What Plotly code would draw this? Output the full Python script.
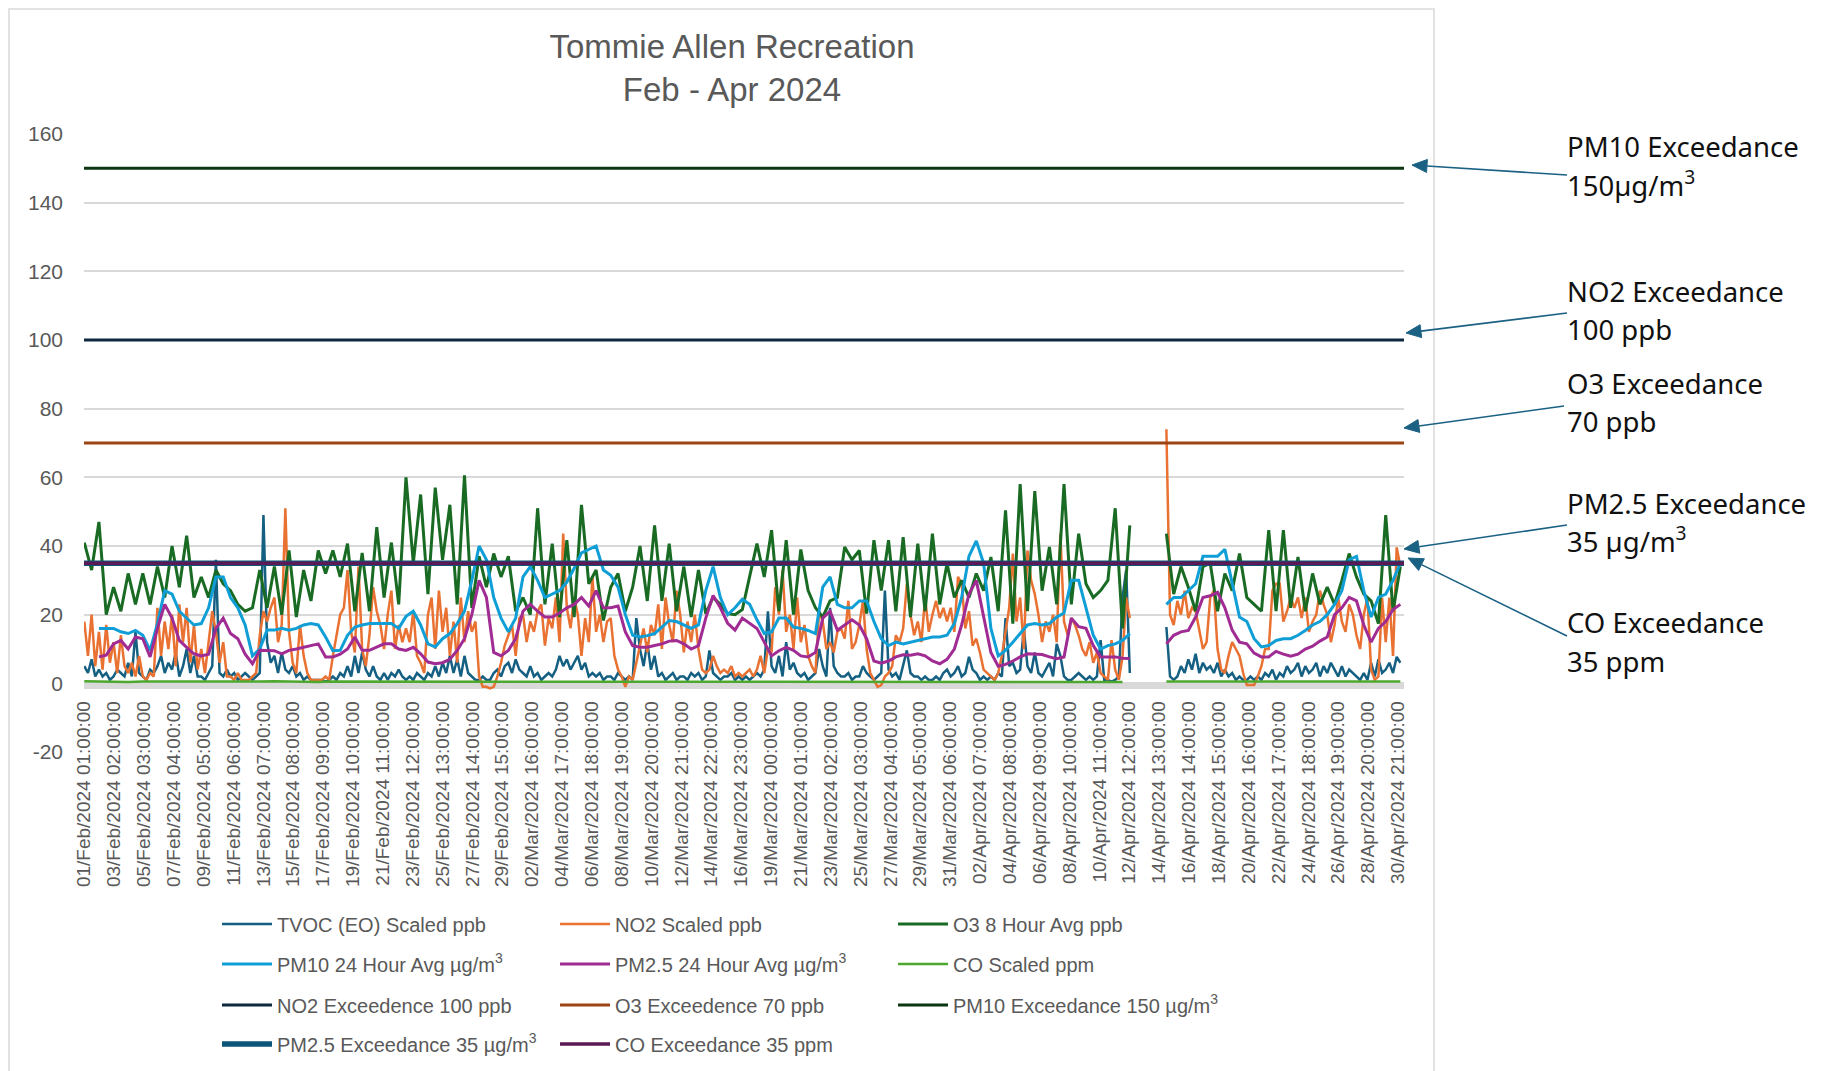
import math
import pandas as pd
import plotly.graph_objects as go

# ---------------- data ----------------
START = "2024-02-01 01:00"
X_START = "2024-02-01 00:30"
X_END = "2024-05-01 07:00"

# x tick labels: one every 49 hourly categories
tick_times = pd.date_range(START, periods=45, freq="49h")
tick_text = [t.strftime("%d/%b/%Y %H:%M:%S") for t in tick_times]

# y tick labels
y_ticks = list(range(-20, 161, 20))
y_text = [str(v) for v in y_ticks]

# O3 8-hour average (ppb), read every 12 h
o3 = [
    41, 33, 47, 20, 28, 21, 32, 23, 32, 23,
    34, 25, 40, 28, 43, 25, 31, 25, 33, 29,
    27, 23, 21, 22, 33, 22, 34, 20, 38.7, 19.3,
    33, 24, 38.7, 32, 38.7, 31, 40.7, 21, 38, 21,
    45.5, 25, 41, 23, 60, 35, 55, 26, 57, 36,
    52, 23, 60.6, 22, 37, 28, 37.8, 31, 37, 21,
    25, 20, 51, 23, 40.7, 19.3, 41.7, 19.3, 52, 29,
    33, 18.3, 28, 32, 21, 28, 40, 24, 46, 24,
    40.7, 21, 34, 19.3, 33, 20.3, 25, 23, 20.3, 20,
    21.5, 31, 40.7, 31, 44.6, 21, 41.7, 20, 39, 27,
    22, 19.3, 24, 25, 39.7, 36, 38.7, 20.3, 41.7, 27,
    41.7, 21, 42.6, 19.3, 40.7, 21, 43.6, 23, 34.9, 25,
    30, 25, 32, 27, 36.8, 21, 50.4, 17.4, 58, 21,
    56, 27, 39.7, 23, 58, 23, 43.6, 29, 25, 27,
    30, 51, 16, 46, None, None, None, None, 43.6, 26,
    34, 28, 21, 34, 35, 21, 32, 27, 37.8, 25,
    23, 21, 44.6, 21, 44.6, 22, 36.8, 21, 32, 23,
    28, 23, 30, 37.8, 31, 26, 24, 17.4, 49, 21,
    34,
]

# PM10 24-hour average (ug/m3), every 12 h
pm10 = [
    None, None, 16, 16, 16, 15, 14.5, 15.4, 14, 9.6,
    17.4, 27, 26, 21, 19, 17, 17.4, 22, 31, 31,
    25, 22, 17, 8, 10, 15.5, 15.5, 16, 15.5, 16,
    17, 17.4, 17, 13.5, 9.5, 9.6, 14, 16.4, 17, 17.4,
    17.4, 17.4, 17.4, 16, 19.5, 21, 17, 11.5, 10.6, 13,
    14.5, 17.4, 21, 30, 40, 36, 25, 19, 15, 19,
    31, 34, 30, 25, 26, 27, 29.5, 33.5, 38, 39,
    40, 33, 31.5, 28, 20, 14, 13.5, 13.9, 14.5, 16.4,
    18.3, 18, 17, 16, 17, 27, 34, 25, 20, 22,
    24.5, 23, 18.5, 14.5, 15, 19, 19, 16.4, 16, 15.4,
    14.5, 28, 31, 23, 22, 22, 24, 24, 18, 13,
    11, 12, 11.5, 12, 12.5, 13, 13.5, 13.5, 14, 17.4,
    25, 37, 41.5, 35, 16, 8, 9.6, 12, 14.5, 17,
    17.4, 17, 17.4, 19.3, 20.5, 30, 30, 22, 14, 10,
    11, 11.5, 12.5, 14.5, None, None, None, None, 23, 25,
    25, 27, 29, 37, 37, 37, 39, 29, 19.3, 18,
    13, 10.6, 11, 12.5, 13, 13, 14, 15.4, 17, 18,
    20, 23, 27, 36, 37, 27, 19.3, 25, 26, 30,
    35,
]

# PM2.5 24-hour average (ug/m3), every 12 h
pm25 = [
    None, None, 7.7, 8.2, 11.5, 12.5, 10, 13.5, 13, 7.7,
    16, 23, 19, 12.5, 10.5, 8.6, 8, 8.5, 16, 19,
    14.5, 13, 8.5, 5.7, 9.6, 9.6, 9.5, 8.6, 9.6, 10,
    10.5, 11, 11.5, 7.7, 7.7, 8.5, 10, 13.5, 9.6, 9.6,
    10.5, 11.5, 11.5, 10, 9.6, 10.5, 8.6, 6.2, 5.7, 6,
    7, 9.6, 13, 20, 30, 25, 9, 8, 9.6, 13,
    21, 23, 21, 19.3, 19.3, 20.5, 22, 23, 25, 22.5,
    27, 22, 22, 22.5, 15, 11, 10.5, 10.5, 11, 11.5,
    12.3, 12.5, 11.5, 10, 11, 19, 25.6, 22, 17.5, 15.5,
    19, 17.5, 16, 12, 8, 9.5, 10.5, 9.6, 8, 7.7,
    9, 19, 21, 15.5, 17, 18.5, 17, 13, 6.5, 5.9,
    6.5, 7.7, 8.3, 8.2, 8.6, 8, 6.5, 5.7, 7, 10,
    17, 26, 30, 20, 9, 5, 5.5, 6.5, 7.7, 8.6,
    8.6, 8.4, 7.7, 7.2, 7.7, 19, 16.5, 16, 11, 7.7,
    7.7, 7.7, 7.3, 7.2, None, None, None, None, 11.5, 14,
    15, 15.4, 19.3, 25, 25.5, 26.5, 22, 15.5, 12, 11.5,
    8.8, 7.7, 7.7, 9.3, 8.5, 7.9, 8.5, 10, 10.8, 12.3,
    13.5, 20, 22, 25, 24, 17, 12, 16, 18, 21.5,
    23,
]

# NO2 scaled (ppb), every 6 h
no2 = [
    18, 8, 20, 5, 15, 4, 17, 6, 12, 3, 14, 5, 3, 6, 2, 8, 2, 1, 3, 2,
    22, 8, 18, 10, 20, 5, 23, 12, 22, 6, 17, 4, 10, 3, 12, 21, 15, 6, 12, 2,
    2, 1, 3, 1, 1, 1, 2, 3, 14, 21, 18, 22, 25, 12, 17, 51, 15, 6, 3, 17,
    8, 3, 1, 1, 1, 1, 2, 1, 8, 14, 20, 22, 33, 15, 9, 34, 10, 5, 14, 28,
    21, 17, 10, 20, 27, 10, 17, 12, 16, 12, 21, 8, 6, 3, 20, 25, 10, 27, 15, 22,
    8, 18, 6, 25, 12, 21, 15, 18, 2, -1, -1, -1.5, -1, 2, 6, 11, 14, 17, 8, 19,
    20, 12, 18, 15, 21, 23, 11, 19, 16, 25, 12, 43.6, 22, 16, 25, 20, 8, 19, 12, 31,
    15, 20, 12, 18, 19, 8, 4, 2, -1, 2, 1, 6, 12, 16, 9, 17, 14, 23, 10, 25,
    17, 12, 27, 20, 9, 18, 12, 20, 10, 4, 3, 4, 8, 5, 3, 4, 3, 5, 2, 3,
    2, 3, 4, 2, 4, 8, 3, 10, 9, 28, 20, 33, 15, 20, 10, 25, 12, 17, 8, 5,
    3, 21, 18, 10, 12, 9, 15, 16, 13, 24, 10, 12, 17, 24, 10, 3, 1, -1, -0.5, 2,
    3, 5, 14, 12, 16, 29, 20, 14, 18, 12, 25, 15, 20, 24, 19, 22, 18, 22, 15, 31,
    29, 16, 21, 11, 13, 9, 4, 3, 2, 1, 3, 8, 15, 22, 37.8, 18, 25, 10, 38.7, 30,
    26, 20, 12, 18, 15, 20, 12, 43.6, 18, 14, 19, 17, 14, 10, 8, 12, 6, 9, 3, 2,
    1, 12.6, 4, 1, 7.7, 25, 19, None, None, None, None, None, None, None, None, None, 74, 20, 17, 24,
    20, 27, 19, 22, 21, 15, 10, 12, 25, 27, 10, 4, 3, 8, 12, 10, 8, 3, -0.5, -0.5,
    -0.5, 2, 5, 10, 10, 27, 29, 29, 18, 21, 25, 22, 25, 19, 25, 15, 18, 20, 27, 23,
    20, 12, 17, 25, 18, 15, 23, 20, 14, 10, 20, 25, 4, 1, 2, 25, 12, 25, 8, 39.6,
    34,
]

# TVOC (EO) scaled (ppb), every 6 h
tvoc = [
    5, 3, 7, 2, 4, 2, 3, 1, 2, 4, 3, 2, 6, 2, 15, 3, 2, 1, 4, 3,
    5, 8, 3, 6, 4, 9, 2, 5, 10, 3, 8, 2, 2, 1, 3, 5, 36, 3, 2, 4,
    2, 3, 1, 2, 3, 2, 1, 2, 3, 49, 12, 6, 8, 3, 9, 4, 3, 5, 2, 3,
    1, 2, 1, 1, 1, 1, 0.5, 1, 2, 1, 3, 2, 5, 2, 8, 3, 9, 4, 2, 5,
    2, 1, 3, 1, 3, 2, 4, 2, 1, 2, 1, 3, 2, 1, 3, 2, 5, 2, 6, 3,
    8, 3, 7, 2, 8, 3, 2, 1, 1, 2, 1, 1, 3, 4, 2, 5, 6, 3, 7, 4,
    3, 2, 5, 2, 3, 1, 2, 3, 2, 4, 8, 5, 7, 4, 6, 8, 4, 6, 2, 3,
    2, 3, 1, 2, 2, 1, 3, 2, 1, 2, 1, 19, 10, 5, 12, 4, 8, 2, 3, 1,
    2, 3, 1, 2, 2, 1, 3, 2, 3, 1, 2, 9.6, 3, 2, 1, 2, 2, 3, 1, 2,
    1, 2, 1, 2, 3, 2, 4, 21, 5, 3, 8, 2, 12, 4, 6, 3, 2, 3, 1, 2,
    3, 10, 5, 2, 22, 5, 3, 2, 2, 3, 1, 2, 2, 5, 3, 2, 1, 2, 3, 27,
    4, 2, 3, 1, 5, 9.6, 3, 2, 2, 1, 2, 1, 1, 2, 1, 3, 4, 2, 3, 5,
    2, 3, 7.7, 4, 3, 1, 2, 1, 2, 1, 3, 2, 19, 5, 6, 3, 4, 16, 5, 3,
    9, 3, 2, 4, 6, 2, 11.5, 8, 2, 1, 1, 2, 3, 2, 1, 2, 1, 2, 12.6, 1,
    1, 0.5, 1, 2, 25, 33, 3, None, None, None, None, None, None, None, None, None, 16.4, 2, 1, 2,
    5, 3, 7, 4, 8.6, 3, 6, 4, 5, 3, 6, 2, 4, 2, 3, 1, 2, 1, 1, 2,
    1, 2, 1, 3, 2, 4, 1, 3, 2, 5, 3, 4, 6, 2, 5, 3, 4, 6, 2, 5,
    3, 6, 4, 2, 5, 2, 4, 3, 2, 1, 3, 1, 6, 2, 7, 3, 4, 6, 3, 7.7,
    6,
]

# CO scaled (ppm), daily
co = [
    0.6, 0.5, 0.5, 0.4, 0.5, 0.6, 0.5, 0.5, 0.4, 0.5,
    0.5, 0.4, 0.5, 0.6, 0.5, 0.4, 0.4, 0.5, 0.5, 0.5,
    0.5, 0.6, 0.5, 0.4, 0.4, 0.5, 0.6, 0.5, 0.4, 0.4,
    0.5, 0.5, 0.6, 0.5, 0.5, 0.5, 0.4, 0.4, 0.5, 0.5,
    0.5, 0.4, 0.4, 0.5, 0.4, 0.4, 0.5, 0.5, 0.5, 0.4,
    0.4, 0.5, 0.5, 0.5, 0.4, 0.4, 0.4, 0.4, 0.4, 0.5,
    0.5, 0.6, 0.4, 0.4, 0.5, 0.5, 0.4, 0.5, 0.5, 0.4,
    0.4, 0.4, None, None, 0.5, 0.5, 0.5, 0.6, 0.5, 0.4,
    0.4, 0.4, 0.5, 0.5, 0.5, 0.5, 0.5, 0.5, 0.4, 0.5,
    0.5,
]

NO2_EXC = 100
O3_EXC = 70
PM10_EXC = 150
PM25_EXC = 35
CO_EXC = 35

assert len(o3) == len(pm10) == len(pm25) == 181
assert len(no2) == len(tvoc) == 361
assert len(co) == 91

t12 = pd.date_range(START, periods=len(o3), freq="12h")
t6 = pd.date_range(START, periods=len(no2), freq="6h")
t24 = pd.date_range(START, periods=len(co), freq="24h")
t_full = [X_START, X_END]

# ---------------- layout constants ----------------
W, H = 1830, 1071
PAGE = 8                       # default page margin of the html body
PL, PT, PW, PH = 84, 134, 1320, 618   # plot area on screen
ML, MT = PL - PAGE, PT - PAGE
MR = W - ML - PW
MB = H - MT - PH
FONT = "Liberation Sans, Arial, sans-serif"
GRAY = "#595959"
ARROW = "#1B6184"


def px_x(px):
    return (px - PL) / PW


def px_y(py):
    return (PT + PH - py) / PH


fig = go.Figure()

series = [
    (t6, tvoc, "TVOC (EO) Scaled ppb", "#156082", 2.5, "legend"),
    (t6, no2, "NO2 Scaled ppb", "#E97132", 2.5, "legend"),
    (t12, o3, "O3 8 Hour Avg ppb", "#196B24", 3, "legend"),
    (t12, pm10, "PM10 24 Hour Avg µg/m<sup>3</sup>", "#0F9ED5", 3, "legend2"),
    (t12, pm25, "PM2.5 24 Hour Avg µg/m<sup>3</sup>", "#A02B93", 3, "legend2"),
    (t24, co, "CO Scaled ppm", "#4EA72E", 2.5, "legend2"),
    (t_full, [NO2_EXC, NO2_EXC], "NO2 Exceedence 100 ppb", "#0E2841", 3, "legend3"),
    (t_full, [O3_EXC, O3_EXC], "O3 Exceedence 70 ppb", "#9C4414", 3, "legend3"),
    (t_full, [PM10_EXC, PM10_EXC], "PM10 Exceedance 150 µg/m<sup>3</sup>", "#0C3512", 3, "legend3"),
    (t_full, [PM25_EXC, PM25_EXC], "PM2.5 Exceedance 35 µg/m<sup>3</sup>", "#0B5578", 5.5, "legend4"),
    (t_full, [CO_EXC, CO_EXC], "CO Exceedance 35 ppm", "#5B1A56", 3.5, "legend4"),
]

for x, y, name, color, width, leg in series:
    fig.add_trace(go.Scatter(
        x=x, y=y, name=name, mode="lines",
        line=dict(color=color, width=width),
        connectgaps=False, legend=leg, hoverinfo="skip",
    ))

leg_common = dict(
    orientation="h", xanchor="left", yanchor="middle",
    bgcolor="rgba(0,0,0,0)", borderwidth=0,
    font=dict(family=FONT, size=20, color=GRAY),
    itemwidth=50, entrywidth=273, entrywidthmode="pixels",
    traceorder="normal",
)
row_y = [924, 964, 1005, 1044]
LEG_X = px_x(217)

annotations = []
# right-side labels, one annotation per text line
label_lines = [
    ("PM10 Exceedance", 146), ("150µg/m<sup>3</sup>", 183),
    ("NO2 Exceedance", 291), ("100 ppb", 329),
    ("O3 Exceedance", 383), ("70 ppb", 421),
    ("PM2.5 Exceedance", 503), ("35 µg/m<sup>3</sup>", 539),
    ("CO Exceedance", 622), ("35 ppm", 661),
]
for txt, cy in label_lines:
    annotations.append(dict(
        text=txt, xref="paper", yref="paper", x=px_x(1565), y=px_y(cy),
        xanchor="left", yanchor="middle", align="left", showarrow=False,
        font=dict(family="Noto Sans, Open Sans, sans-serif", size=27.5, color="#111111"),
    ))

shapes = [
    # chart border
    dict(type="rect", xref="paper", yref="paper",
         x0=px_x(9), x1=px_x(1434), y0=px_y(1085), y1=px_y(9),
         line=dict(color="#d9d9d9", width=1.5), fillcolor="rgba(0,0,0,0)", layer="below"),
    # horizontal axis line at zero
    dict(type="line", xref="paper", yref="y", x0=0, x1=1, y0=-0.8, y1=-0.8,
         line=dict(color="#d9d9d9", width=6), layer="below"),
]

# callout arrows: tail (at the label) -> head (at the chart edge), in screen px
arrows = [
    ((1567, 175), (1412, 165)),
    ((1567, 313), (1406, 333)),
    ((1564, 406), (1404, 428)),
    ((1567, 525), (1404, 549)),
    ((1567, 636), (1408, 558)),
]
HEAD_LEN, HEAD_HALF = 15, 6.5
for (tx, ty), (hx, hy) in arrows:
    dx, dy = hx - tx, hy - ty
    n = math.hypot(dx, dy)
    ux, uy = dx / n, dy / n
    bx, by = hx - HEAD_LEN * ux, hy - HEAD_LEN * uy
    px1, py1 = bx - HEAD_HALF * uy, by + HEAD_HALF * ux
    px2, py2 = bx + HEAD_HALF * uy, by - HEAD_HALF * ux
    shapes.append(dict(
        type="line", xref="paper", yref="paper",
        x0=px_x(tx), y0=px_y(ty), x1=px_x(bx), y1=px_y(by),
        line=dict(color=ARROW, width=1.6),
    ))
    shapes.append(dict(
        type="path", xref="paper", yref="paper",
        path=(f"M {px_x(hx)},{px_y(hy)} L {px_x(px1)},{px_y(py1)} "
              f"L {px_x(px2)},{px_y(py2)} Z"),
        fillcolor=ARROW, line=dict(color=ARROW, width=1),
    ))

fig.update_layout(
    template="none",
    width=W, height=H,
    margin=dict(l=ML, r=MR, t=MT, b=MB),
    paper_bgcolor="white", plot_bgcolor="white",
    font=dict(family=FONT, color=GRAY),
    title=dict(
        text="Tommie Allen Recreation<br>Feb - Apr 2024",
        x=724 / W, xanchor="center", y=1 - 50 / H, yanchor="middle",
        font=dict(family=FONT, size=33, color=GRAY),
    ),
    xaxis=dict(
        type="date", range=[X_START, X_END],
        tickmode="array", tickvals=list(tick_times), ticktext=tick_text,
        tickangle=-90, tickfont=dict(family=FONT, size=19, color=GRAY),
        showgrid=False, zeroline=False, showline=False, ticks="",
        anchor="free", position=20 / 180, ticklabelstandoff=13,
    ),
    yaxis=dict(
        range=[-20, 160], tickmode="array",
        tickvals=y_ticks, ticktext=y_text,
        tickfont=dict(family=FONT, size=21, color=GRAY),
        showgrid=True, gridcolor="#d9d9d9", gridwidth=1.5,
        zeroline=False, showline=False, ticks="", ticklabelstandoff=20,
    ),
    legend=dict(leg_common, x=LEG_X, y=px_y(row_y[0])),
    legend2=dict(leg_common, x=LEG_X, y=px_y(row_y[1])),
    legend3=dict(leg_common, x=LEG_X, y=px_y(row_y[2])),
    legend4=dict(leg_common, x=LEG_X, y=px_y(row_y[3])),
    annotations=annotations,
    shapes=shapes,
    showlegend=True,
)

fig.write_html("out.html")
